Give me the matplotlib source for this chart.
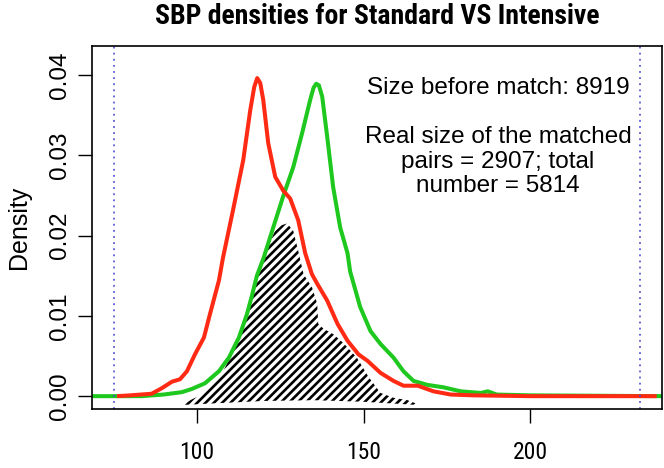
import matplotlib
matplotlib.use('Agg')
import matplotlib.pyplot as plt

plt.rcParams['font.family'] = ['Liberation Sans', 'DejaVu Sans']
plt.rcParams['hatch.linewidth'] = 1.9
NARROW = ['Roboto Condensed', 'Liberation Sans', 'DejaVu Sans']

# density of SBP, Standard (red) vs Intensive (green)
red_x = [76, 80, 86.4, 89.5, 92.5, 94.9, 97, 99.4, 102.1, 103.9, 106.6, 107.8, 110.8,
         113.9, 116, 117.2, 118.1, 119, 119.9, 121.4, 123.5, 125.9, 128, 130.4, 132.5,
         134.5, 136.1, 139.1, 142.2, 145.2, 148.5, 151.2, 155.1, 159, 162, 166.3, 171,
         176.2, 183, 200, 238]
red_y = [0, 0.0001, 0.0003, 0.001, 0.0018, 0.0021, 0.0031, 0.0052, 0.0073, 0.0102, 0.0144,
         0.0172, 0.0231, 0.0294, 0.0356, 0.0385, 0.0396, 0.0390, 0.0369, 0.0315, 0.0273,
         0.0256, 0.0246, 0.0219, 0.0178, 0.0152, 0.014, 0.0119, 0.009, 0.0069, 0.0052,
         0.0044, 0.0029, 0.0019, 0.0013, 0.0013, 0.0006, 0.0002, 0.0001, 0.0, 0.0]

green_x = [68.5, 83.5, 90, 95.5, 98.5, 102.4, 106.6, 109.6, 112.6, 115, 116.5, 118, 120,
           122.9, 125.9, 128.9, 131.6, 134, 135, 135.8, 136.6, 137.6, 139.1, 140.9, 143,
           145.2, 146, 149, 152.1, 155.1, 159, 162, 165, 169.2, 174, 179.2, 185.2, 187.3,
           190, 200, 239.6]
green_y = [0.0, 0.0, 0.0002, 0.0005, 0.0009, 0.0016, 0.0031, 0.0048, 0.0073, 0.0102, 0.0125,
           0.015, 0.0172, 0.021, 0.0249, 0.0285, 0.0328, 0.0369, 0.0384, 0.0389, 0.0387,
           0.0373, 0.0323, 0.026, 0.021, 0.0178, 0.0155, 0.0111, 0.0081, 0.0065, 0.0048,
           0.0031, 0.0019, 0.0014, 0.0011, 0.0006, 0.0004, 0.0006, 0.0002, 0.0001, 0.0]

# hatched overlap region
hatch_x = [95.5, 98.5, 101.5, 103.6, 107.5, 110.8, 112.5, 115, 118, 121, 123.5, 125.5,
           127.1, 128.9, 130.4, 132, 134.6, 136.1, 136.4, 138, 141, 144, 148, 151.5,
           155.1, 159, 163.2, 166.3]
hatch_top = [-0.0011, -0.0004, 0.0002, 0.001, 0.0028, 0.0055, 0.0072, 0.0106, 0.0148,
             0.0185, 0.0206, 0.0213, 0.0215, 0.0206, 0.0181, 0.0152, 0.0135, 0.0115,
             0.009, 0.0084, 0.0077, 0.0066, 0.0048, 0.0024, 0.0004, -0.0002, -0.0005, -0.001]
hatch_bx = [166.3, 150, 135, 120, 105, 95.5]
hatch_by = [-0.0011, -0.0007, -0.0005, -0.0006, -0.0009, -0.0011]

range_lines = [75, 233]

yticks = [0.0, 0.01, 0.02, 0.03, 0.04]
ytick_labels = ['0.00', '0.01', '0.02', '0.03', '0.04']
xticks = [100, 150, 200]

fig = plt.figure(figsize=(6.64, 4.68), dpi=100)
ax = fig.add_axes([92/664, 1-409/468, 570/664, 363/468])

ax.fill(hatch_x + hatch_bx, hatch_top + hatch_by, facecolor='white', edgecolor='black',
        hatch='////', linewidth=0)
ax.plot(green_x, green_y, color='#1ec81e', lw=2.9, solid_capstyle='butt')
ax.plot(red_x, red_y, color='#ff2a14', lw=2.9, solid_capstyle='butt')
for v in range_lines:
    ax.axvline(v, color='#4040cc', lw=1.1, ls=(0, (1.2, 2.8)))

ax.set_xlim(68.5, 239.6)
ax.set_ylim(-0.0016, 0.0436)
ax.set_xticks(xticks)
ax.set_yticks(yticks)
ax.set_yticklabels(ytick_labels, rotation=90, va='center')
ax.tick_params(direction='out', length=10, width=1.0, labelsize=17.5)
ax.tick_params(axis='y', pad=5)
ax.tick_params(axis='x', pad=13)
for lab in ax.get_xticklabels():
    lab.set_family(NARROW)
    lab.set_fontsize(17)
for s in ax.spines.values():
    s.set_linewidth(1.2)
ax.set_ylabel('Density', fontsize=18, va='center')
ax.yaxis.set_label_coords(-0.128, 0.5)

ax.text(190.4, 0.0384, 'Size before match: 8919', fontsize=17.5, ha='center', va='center')
ax.text(190.4, 0.0292, 'Real size of the matched\npairs = 2907; total\nnumber = 5814',
        fontsize=17.5, ha='center', va='center', linespacing=1.16)

fig.text(377/664, 1-24/468, 'SBP densities for Standard VS Intensive',
         family=NARROW, fontweight='bold', fontsize=20, ha='center', va='baseline')

fig.savefig('out.png', dpi=100)
